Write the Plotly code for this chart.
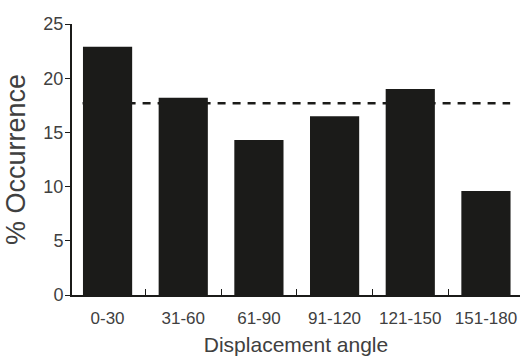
import plotly.graph_objects as go

categories = ["0-30", "31-60", "61-90", "91-120", "121-150", "151-180"]
occurrence = [22.9, 18.2, 14.3, 16.5, 19.0, 9.6]
expected_level = 17.7
y_ticks = [0, 5, 10, 15, 20, 25]

fig = go.Figure()
fig.add_trace(go.Bar(
    x=categories, y=occurrence,
    marker=dict(color="#1b1b19", line=dict(width=0)),
    width=0.65,
))
fig.add_shape(
    type="line", xref="x", yref="y",
    x0=-0.33, x1=5.32, y0=expected_level, y1=expected_level,
    line=dict(color="#1b1b19", width=2.5, dash="8px,7px"),
    layer="below",
)

font_family = "Liberation Sans, Arial, sans-serif"
text_color = "#404040"
fig.update_layout(
    width=522, height=357,
    margin=dict(l=72, r=2, t=24, b=62, autoexpand=False),
    plot_bgcolor="white", paper_bgcolor="white",
    showlegend=False,
    font=dict(family=font_family, color=text_color, size=17),
)
fig.update_xaxes(
    range=[-0.47, 5.45],
    showline=True, linecolor="#1b1b19", linewidth=2,
    ticks="inside", ticklen=6, tickwidth=1, tickcolor="#1b1b19",
    tickson="boundaries",
    ticklabelstandoff=7,
    showgrid=False, zeroline=False,
    tickfont=dict(size=17, color=text_color),
    title=dict(text="Displacement angle", font=dict(size=21, color=text_color), standoff=10),
)
fig.update_yaxes(
    range=[0, 25], tickvals=y_ticks,
    showline=True, linecolor="#1b1b19", linewidth=2,
    ticks="outside", ticklen=5, tickwidth=1, tickcolor="#1b1b19",
    ticklabelstandoff=-2,
    showgrid=False, zeroline=False,
    tickfont=dict(size=18, color=text_color),
    title=dict(text="% Occurrence", font=dict(size=27, color=text_color), standoff=10),
)
fig.write_html(
    "out.html",
    config={"displayModeBar": False},
    post_script="document.body.style.margin='0';document.body.style.overflow='hidden';",
)
